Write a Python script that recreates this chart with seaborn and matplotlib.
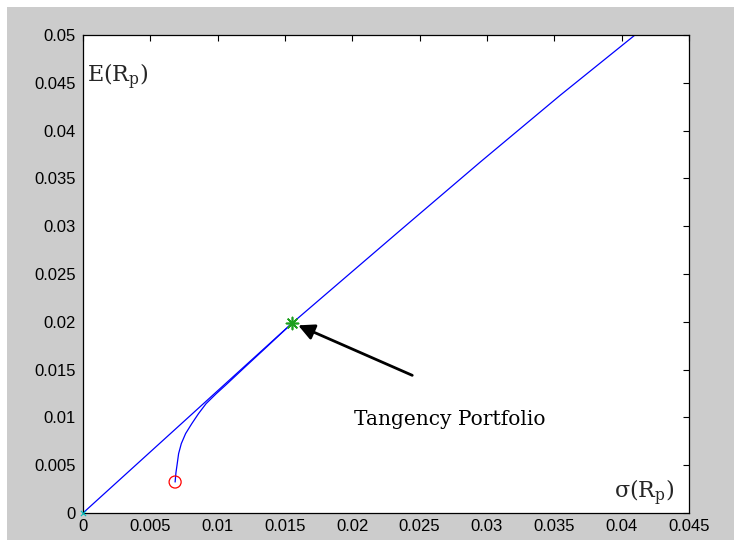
import matplotlib
matplotlib.use("Agg")
import matplotlib.pyplot as plt
import seaborn as sns
import pandas as pd
from matplotlib.patches import Rectangle

# ---- data ----
frontier_sigma = [0.00684, 0.00690, 0.00698, 0.00710, 0.00730, 0.00762, 0.00808, 0.00858,
                  0.00914, 0.00990, 0.01058, 0.01124, 0.01190, 0.01351, 0.01553,
                  0.01954, 0.02356, 0.02950, 0.03544, 0.04099]
frontier_mu = [0.00324, 0.00420, 0.00499, 0.00621, 0.00726, 0.00831, 0.00935, 0.01040,
               0.01144, 0.01249, 0.01336, 0.01423, 0.01510, 0.01720, 0.01986,
               0.02471, 0.02957, 0.03671, 0.04370, 0.05000]
cml_sigma = [0.0, 0.01553]
cml_mu = [0.0, 0.01986]
minvar_sigma = [0.00684]
minvar_mu = [0.00324]
tangency_sigma = [0.01553]
tangency_mu = [0.01986]
riskfree_sigma = [0.0]
riskfree_mu = [0.0]
xticks = [0, 0.005, 0.01, 0.015, 0.02, 0.025, 0.03, 0.035, 0.04, 0.045]
xticklabels = ["0", "0.005", "0.01", "0.015", "0.02", "0.025", "0.03", "0.035", "0.04", "0.045"]
yticks = [0, 0.005, 0.01, 0.015, 0.02, 0.025, 0.03, 0.035, 0.04, 0.045, 0.05]
yticklabels = ["0", "0.005", "0.01", "0.015", "0.02", "0.025", "0.03", "0.035", "0.04", "0.045", "0.05"]
annotation_text = "Tangency Portfolio"
ylabel_text = "E(R$_{\\mathrm{p}}$)"
xlabel_text = "σ(R$_{\\mathrm{p}}$)"

sns.set_style("white")
plt.rcParams["font.family"] = ["Liberation Sans", "DejaVu Sans"]
plt.rcParams["mathtext.fontset"] = "dejavuserif"

W, H = 734, 545
fig = plt.figure(figsize=(W / 100, H / 100), dpi=100, facecolor="white")
# MATLAB-like grey figure panel with thin white margins
fig.patches.append(Rectangle((7 / W, 5 / H), 1 - 7 / W, (540 - 7) / H,
                             transform=fig.transFigure, facecolor="#cccccc",
                             edgecolor="none", zorder=-10))

ax = fig.add_axes([83 / W, (H - 513) / H, (689 - 83) / W, (513 - 35) / H])
ax.set_zorder(5)
ax.set_facecolor("white")

df_front = pd.DataFrame({"sigma": frontier_sigma, "mu": frontier_mu})
df_cml = pd.DataFrame({"sigma": cml_sigma, "mu": cml_mu})
sns.lineplot(data=df_front, x="sigma", y="mu", sort=False, estimator=None,
             color="#0000ff", lw=0.9, ax=ax)
sns.lineplot(data=df_cml, x="sigma", y="mu", sort=False, estimator=None,
             color="#0000ff", lw=0.9, ax=ax)

ax.scatter(minvar_sigma, minvar_mu, marker="o", s=75, facecolors="none",
           edgecolors="#ff0000", linewidths=0.9, zorder=5)
ax.scatter(tangency_sigma, tangency_mu, marker=(8, 2, 0), s=75,
           color="#1ea01e", linewidths=1.2, zorder=6)
ax.scatter(riskfree_sigma, riskfree_mu, marker="x", s=14, color="#00bfbf",
           linewidths=0.8, zorder=6, clip_on=False)

ax.annotate("", xy=(0.01598, 0.01963), xytext=(0.02445, 0.01440),
            arrowprops=dict(arrowstyle="-|>", lw=2.0, color="black",
                            mutation_scale=24, shrinkA=0, shrinkB=0))
ax.text(0.02012, 0.00917, annotation_text, fontsize=14.5,
        family=["DejaVu Serif"], va="baseline", ha="left", color="black")

ax.text(4 / 606, (513 - 82) / 478, ylabel_text, transform=ax.transAxes,
        fontsize=16, family=["DejaVu Serif"], va="baseline", ha="left")
ax.text((614 - 83) / 606, (513 - 498) / 478, xlabel_text, transform=ax.transAxes,
        fontsize=16, family=["DejaVu Serif"], va="baseline", ha="left")

ax.set_xlim(0, 0.045)
ax.set_ylim(0, 0.05)
ax.set_xticks(xticks)
ax.set_xticklabels(xticklabels)
ax.set_yticks(yticks)
ax.set_yticklabels(yticklabels)
ax.set_xlabel("")
ax.set_ylabel("")
ax.tick_params(direction="in", length=4, width=0.8, top=True, right=True,
               labelsize=12, colors="black")
ax.tick_params(axis="y", pad=5)
ax.tick_params(axis="x", pad=4)
for s in ax.spines.values():
    s.set_visible(True)
    s.set_color("black")
    s.set_linewidth(0.9)

fig.savefig("out.png", dpi=100, facecolor="white")
